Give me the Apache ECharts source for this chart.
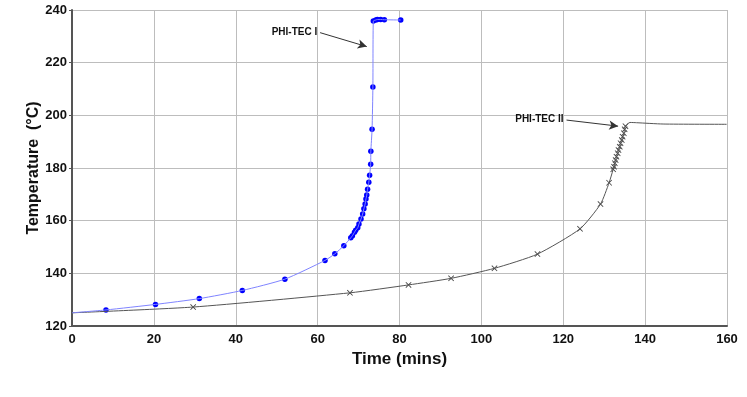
<!DOCTYPE html>
<html>
<head>
<meta charset="utf-8">
<script src="https://cdn.jsdelivr.net/npm/echarts@6/dist/echarts.min.js"></script>
<style>
  html, body { margin: 0; padding: 0; background: #fff; }
  #chart { width: 747px; height: 397px; }
</style>
</head>
<body>
<div id="chart"></div>
<script>
// axis ticks
const xTicks = [0, 20, 40, 60, 80, 100, 120, 140, 160];
const yTicks = [120, 140, 160, 180, 200, 220, 240];

// PHI-TEC I: marker points (time mins, temp C)
const phi1Time = [8.3, 20.4, 31.1, 41.6, 52.0, 61.8, 64.2, 66.4, 68.1, 68.5, 69.0, 69.3, 69.8, 70.1, 70.6, 71.0, 71.3, 71.6, 71.8, 72.0, 72.2, 72.5, 72.7, 72.96, 73.0, 73.3, 73.5, 73.6, 74.2, 74.6, 75.4, 76.3, 80.3];
const phi1Temp = [126.1, 128.2, 130.4, 133.5, 137.8, 144.9, 147.4, 150.5, 153.5, 154.3, 155.6, 156.4, 157.3, 158.7, 160.6, 162.5, 164.5, 166.3, 168.2, 169.7, 171.9, 174.6, 177.2, 181.4, 186.4, 194.7, 210.8, 235.8, 236.2, 236.4, 236.4, 236.3, 236.2];

// PHI-TEC II: marker points
const phi2Time = [29.6, 67.9, 82.2, 92.6, 103.2, 113.7, 124.1, 129.1, 131.2, 132.2, 132.4, 132.6, 132.8, 133.0, 133.3, 133.5, 133.8, 134.0, 134.3, 134.5, 134.8, 135.0, 135.2];
const phi2Temp = [127.2, 132.6, 135.6, 138.1, 141.9, 147.3, 156.9, 166.3, 174.4, 179.5, 180.5, 181.8, 183.0, 184.3, 185.6, 186.8, 188.1, 189.4, 190.6, 191.9, 193.2, 194.7, 195.9];
// PHI-TEC II line tail (plateau, no markers)
const phi2TailTime = [136.3, 137.9, 144.4, 159.9];
const phi2TailTemp = [197.3, 197.2, 196.7, 196.6];

const startPoint = [0, 125];

// annotation arrows [from, to] in data units
const arrow1 = [[60.6, 231.4], [72.0, 226.1]];
const arrow2 = [[120.8, 198.2], [133.4, 195.9]];

const FONT = 'Arial, "Liberation Sans", sans-serif';

const zip = (a, b) => a.map((v, i) => [v, b[i]]);
const phi1Markers = zip(phi1Time, phi1Temp);
const phi2Markers = zip(phi2Time, phi2Temp);
const phi1Line = [startPoint, ...phi1Markers];
const phi2Line = [startPoint, ...phi2Markers, ...zip(phi2TailTime, phi2TailTemp)];

const crossPath = 'path://M0,1L1,0L5,4L9,0L10,1L6,5L10,9L9,10L5,6L1,10L0,9L4,5Z';

const arrowLine = (pts, text) => ({
  silent: true,
  animation: false,
  symbol: ['none', 'arrow'],
  symbolSize: [7, 9],
  lineStyle: { color: '#333', width: 1, type: 'solid' },
  label: {
    show: true, position: 'start', formatter: text, distance: 3,
    color: '#111', fontSize: 10, fontWeight: 'bold', fontFamily: FONT
  },
  data: [[{ coord: pts[0] }, { coord: pts[1] }]]
});

const chart = echarts.init(document.getElementById('chart'), null, { renderer: 'canvas' });
chart.setOption({
  animation: false,
  backgroundColor: '#fff',
  grid: { left: 72, right: 20, top: 10, bottom: 71 },
  xAxis: {
    type: 'value', min: xTicks[0], max: xTicks[xTicks.length - 1], interval: 20,
    name: 'Time (mins)', nameLocation: 'middle', nameGap: 17,
    nameTextStyle: { color: '#111', fontSize: 17, fontWeight: 'bold', fontFamily: FONT },
    axisLine: { lineStyle: { color: '#555', width: 2 } },
    axisTick: { show: false },
    axisLabel: { color: '#111', fontSize: 13, fontWeight: 'bold', fontFamily: FONT, margin: 7 },
    splitLine: { lineStyle: { color: '#bdbdbd', width: 1 } }
  },
  yAxis: {
    type: 'value', min: yTicks[0], max: yTicks[yTicks.length - 1], interval: 20,
    name: 'Temperature  (°C)', nameLocation: 'middle', nameGap: 30, nameMoveOverlap: false,
    nameTextStyle: { color: '#111', fontSize: 16, fontWeight: 'bold', fontFamily: FONT },
    axisLine: { show: true, lineStyle: { color: '#555', width: 2 } },
    axisTick: { show: true, length: 3, lineStyle: { color: '#555' } },
    axisLabel: { color: '#111', fontSize: 13, fontWeight: 'bold', fontFamily: FONT, margin: 5 },
    splitLine: { lineStyle: { color: '#bdbdbd', width: 1 } }
  },
  series: [
    {
      name: 'PHI-TEC II line', type: 'line', data: phi2Line,
      showSymbol: false, smooth: 0.2,
      lineStyle: { color: '#555', width: 1 },
      markLine: arrowLine(arrow2, 'PHI-TEC II')
    },
    {
      name: 'PHI-TEC II', type: 'scatter', data: phi2Markers,
      symbol: crossPath, symbolSize: 6,
      itemStyle: { color: '#444', opacity: 1 }
    },
    {
      name: 'PHI-TEC I line', type: 'line', data: phi1Line,
      showSymbol: false, smooth: 0.2,
      lineStyle: { color: '#7f84ff', width: 1 },
      markLine: arrowLine(arrow1, 'PHI-TEC I')
    },
    {
      name: 'PHI-TEC I', type: 'scatter', data: phi1Markers,
      symbol: 'circle', symbolSize: 5.5,
      itemStyle: { color: '#0000ff', opacity: 1 }
    }
  ]
});
</script>
</body>
</html>
